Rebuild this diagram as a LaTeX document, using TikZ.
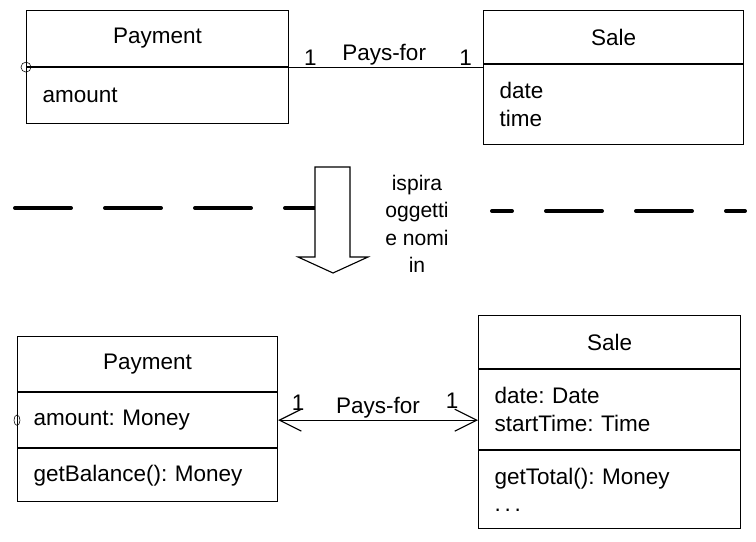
\documentclass[tikz,border=0pt]{standalone}
\usepackage{fontspec}
\setmainfont{Liberation Sans}
\usepackage{tikz}
\usetikzlibrary{positioning,arrows.meta}
\frenchspacing

\begin{document}
\begin{tikzpicture}[
    cls/.style={draw, line width=0.8pt, inner xsep=0.4cm, inner ysep=0pt, align=left,
                font=\fontsize{16}{19.8}\selectfont},
    hd/.style={cls, align=center},
    lbl/.style={inner sep=1pt, font=\fontsize{16}{19.8}\selectfont},
    sep/.style={line width=2.8pt, line cap=round, dash pattern=on 1.4cm off 0.85cm},
    blk/.style={draw, fill=white, line width=0.8pt, line join=miter},
    arr/.style={{Straight Barb[length=5.5mm,width=5.5mm]}-{Straight Barb[length=5.5mm,width=5.5mm]}, line width=0.8pt}
]
\useasboundingbox (0,0) rectangle (18.9,-13.55);

% domain model
\node[hd, text width=5.75cm, minimum height=1.4cm, anchor=north west] (pay) at (0.65,-0.25) {Payment};
\node[cls, text width=5.75cm, minimum height=1.4cm, below=0pt of pay] (payat) {amount};
\node[hd, text width=5.7cm, minimum height=1.325cm, anchor=north west] (sale) at (12.075,-0.25) {Sale};
\node[cls, text width=5.7cm, minimum height=2cm, below=0pt of sale] (saleat) {date\\time};
\draw (pay.south west) circle (0.125);
\draw[line width=0.8pt] (pay.south east) -- (pay.south east -| saleat.west)
    node[lbl, above, pos=0.11] {1}
    node[lbl, above, pos=0.49] {Pays-for}
    node[lbl, above, pos=0.91] {1};

% separator and block arrow
\draw[sep] (0.375,-5.2) -- (7.875,-5.2);
\draw[sep, dash phase=0.9cm] (12.3,-5.275) -- (18.625,-5.275);
\draw[blk] (7.875,-4.175) -- (8.75,-4.175) -- (8.75,-6.425) -- (9.2,-6.425)
    -- (8.325,-6.825) -- (7.45,-6.425) -- (7.875,-6.425) -- cycle;
\node[align=center, font=\fontsize{15}{19.5}\selectfont] (insp) at (10.425,-5.6) {ispira\\oggetti\\e nomi\\in};

% design classes
\node[hd, text width=5.7cm, minimum height=1.375cm, anchor=north west] (pay2) at (0.425,-8.4) {Payment};
\node[cls, text width=5.7cm, minimum height=1.375cm, below=0pt of pay2] (pay2at) {amount: Money};
\node[cls, text width=5.7cm, minimum height=1.325cm, below=0pt of pay2at] (pay2op) {getBalance(): Money};
\node[hd, text width=5.75cm, minimum height=1.325cm, anchor=north west] (sale2) at (11.95,-7.875) {Sale};
\node[cls, text width=5.75cm, minimum height=2cm, below=0pt of sale2] (sale2at) {date: Date\\startTime: Time};
\node[cls, text width=5.75cm, minimum height=1.95cm, below=0pt of sale2at] (sale2op) {getTotal(): Money\\.\,.\,.};
\draw (pay2at.west) ellipse (0.075 and 0.13);
\draw[arr] (pay2at.east) -- (pay2at.east -| sale2at.west)
    node[lbl, above, pos=0.10, yshift=0.2cm] {1}
    node[lbl, above, pos=0.50] {Pays-for}
    node[lbl, above, pos=0.87, yshift=0.25cm] {1};
\end{tikzpicture}
\end{document}
